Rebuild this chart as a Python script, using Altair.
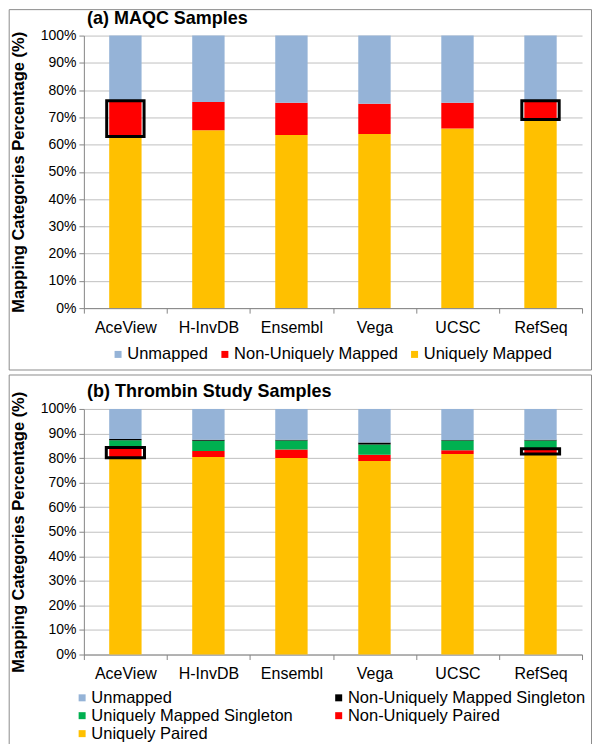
import altair as alt
import pandas as pd

databases = ["AceView", "H-InvDB", "Ensembl", "Vega", "UCSC", "RefSeq"]
y_ticks = [0, 10, 20, 30, 40, 50, 60, 70, 80, 90, 100]

# (a) MAQC samples (percent)
maqc_series = ["Unmapped", "Non-Uniquely Mapped", "Uniquely Mapped"]
maqc_colors = ["#95B3D7", "#FF0000", "#FFC000"]
maqc_uniquely = [63.0, 65.3, 63.5, 63.9, 65.9, 68.8]
maqc_nonunique = [12.7, 10.3, 11.9, 11.1, 9.5, 6.8]
maqc_unmapped = [24.3, 24.4, 24.6, 25.0, 24.6, 24.4]
maqc_box_db = ["AceView", "RefSeq"]
maqc_box_low = [63.0, 69.2]
maqc_box_high = [76.1, 76.1]

# (b) Thrombin study samples (percent)
# legend order (filled column by column in a 2-column legend)
thr_series = ["Unmapped", "Uniquely Mapped Singleton", "Uniquely Paired",
              "Non-Uniquely Mapped Singleton", "Non-Uniquely Paired"]
thr_colors = ["#95B3D7", "#00B050", "#FFC000", "#000000", "#FF0000"]
thr_uniquely_paired = [80.1, 80.4, 80.0, 78.8, 81.7, 81.9]
thr_nonunique_paired = [4.2, 2.5, 3.5, 2.5, 1.5, 1.6]
thr_unique_singleton = [3.0, 4.1, 3.7, 4.2, 4.0, 3.7]
thr_nonunique_singleton = [0.5, 0.5, 0.3, 0.8, 0.2, 0.3]
thr_unmapped = [12.2, 12.5, 12.5, 13.7, 12.6, 12.5]
thr_box_db = ["AceView", "RefSeq"]
thr_box_low = [80.1, 81.7]
thr_box_high = [84.3, 83.8]


def long_df(series_values):
    rows = []
    for ord_, (name, vals) in enumerate(series_values):
        for db, v in zip(databases, vals):
            rows.append({"db": db, "series": name, "value": v, "ord": ord_})
    return pd.DataFrame(rows)


maqc_df = long_df([("Uniquely Mapped", maqc_uniquely),
                   ("Non-Uniquely Mapped", maqc_nonunique),
                   ("Unmapped", maqc_unmapped)])
thr_df = long_df([("Uniquely Paired", thr_uniquely_paired),
                  ("Non-Uniquely Paired", thr_nonunique_paired),
                  ("Uniquely Mapped Singleton", thr_unique_singleton),
                  ("Non-Uniquely Mapped Singleton", thr_nonunique_singleton),
                  ("Unmapped", thr_unmapped)])
maqc_box = pd.DataFrame({"db": maqc_box_db, "low": maqc_box_low, "high": maqc_box_high})
thr_box = pd.DataFrame({"db": thr_box_db, "low": thr_box_low, "high": thr_box_high})

W = 499
AX = "#868686"
FONT = "Liberation Sans"


def y_axis(H):
    return alt.Axis(values=y_ticks, labelExpr="datum.value + '%'",
                    labelOverlap=False, tickCount=20,
                    labelFontSize=14, labelColor="black", tickSize=5,
                    labelPadding=3, tickColor=AX, domainColor=AX,
                    gridColor="#C0C0C0",
                    title="Mapping Categories Percentage (%)",
                    titleFontSize=16.5, titleFontWeight="bold",
                    titleColor="black", titleX=-57.5, titleY=H / 2,
                    titleAlign="center")


x_axis = alt.Axis(labelAngle=0, labelFontSize=16, tickBand="extent",
                  tickSize=5, labelPadding=6, domainColor=AX,
                  tickColor=AX, labelColor="black", grid=False)


def panel(df, series, colors, box, title, H, top_off, bottom_off, legend, box_w):
    frame = alt.Chart(alt.Data(values=[{}])).mark_rect(
        fillOpacity=0, stroke="#8C8C8C", strokeWidth=1
    ).encode(
        x=alt.value(-74.8), x2=alt.value(W + 9.5),
        y=alt.value(-top_off), y2=alt.value(bottom_off),
    )
    ttl = alt.Chart(alt.Data(values=[{}])).mark_text(
        align="left", baseline="alphabetic", fontSize=18, fontWeight="bold",
        font=FONT, color="black"
    ).encode(x=alt.value(3.2), y=alt.value(-11.5), text=alt.value(title))

    xenc = alt.X("db:N", sort=databases, title=None,
                 scale=alt.Scale(paddingInner=0, paddingOuter=0), axis=x_axis)
    bars = alt.Chart(df).mark_bar(width=alt.RelativeBandSize(0.39)).encode(
        x=xenc,
        y=alt.Y("value:Q", stack="zero",
                scale=alt.Scale(domain=[0, 100], nice=False), axis=y_axis(H)),
        color=alt.Color("series:N", scale=alt.Scale(domain=series, range=colors),
                        legend=legend),
        order=alt.Order("ord:Q", sort="ascending"),
    )
    boxes = alt.Chart(box).mark_bar(
        fillOpacity=0, stroke="black", strokeWidth=3,
        width=alt.RelativeBandSize(box_w)
    ).encode(
        x=xenc,
        y=alt.Y("low:Q", scale=alt.Scale(domain=[0, 100], nice=False), axis=y_axis(H)),
        y2="high:Q",
    )
    return alt.layer(frame, bars, boxes, ttl).properties(width=W, height=H)


legend_a = alt.Legend(orient="none", legendX=26, legendY=311, direction="horizontal",
                      title=None, labelFontSize=16.5, labelFont=FONT, labelColor="black",
                      symbolType="square", symbolSize=49, symbolStrokeWidth=0,
                      columnPadding=8, labelLimit=400, padding=0, labelOffset=1)
legend_b = alt.Legend(orient="none", legendX=-10, legendY=281, direction="vertical",
                      columns=2, title=None, labelFontSize=16.5, labelFont=FONT,
                      labelColor="black", symbolType="square", symbolSize=49,
                      symbolStrokeWidth=0, columnPadding=37, rowPadding=1,
                      labelLimit=400, padding=0, labelOffset=1)

top = panel(maqc_df, maqc_series, maqc_colors, maqc_box, "(a) MAQC Samples",
            273, 26, 335, legend_a, 0.45)
bottom = panel(thr_df, thr_series, thr_colors, thr_box, "(b) Thrombin Study Samples",
               246, 34, 337, legend_b, 0.46)

chart = alt.vconcat(top, bottom, spacing=3).resolve_scale(
    color="independent", y="independent", x="independent"
).resolve_legend(color="independent").properties(
    padding=0, background="white"
).configure(font=FONT).configure_view(strokeWidth=0)

chart.save("out.html", embed_options={"renderer": "svg", "actions": False})
